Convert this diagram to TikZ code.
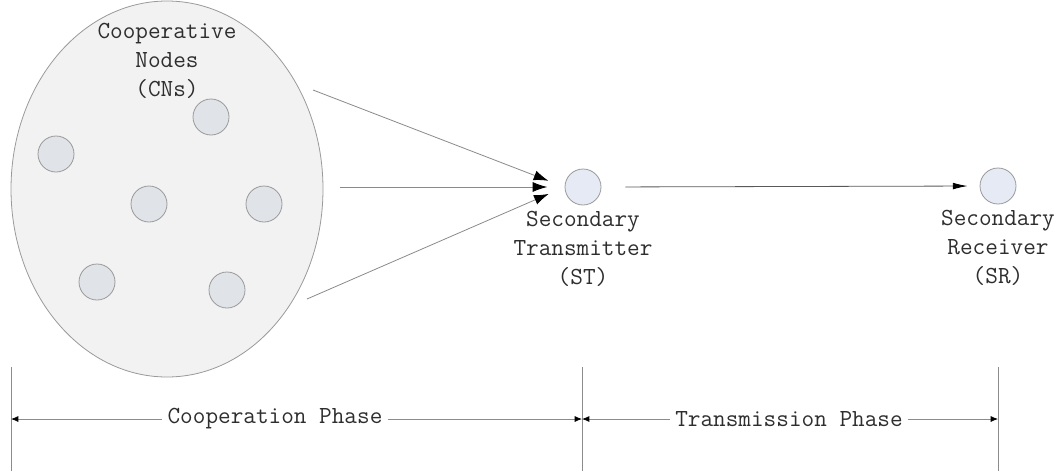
\documentclass[tikz,border=0pt]{standalone}
\usetikzlibrary{arrows.meta,shapes.geometric}
\definecolor{cloudfill}{HTML}{F2F2F2}
\definecolor{cloudline}{HTML}{9A9A9A}
\definecolor{cnfill}{HTML}{E0E3E8}
\definecolor{stfill}{HTML}{E5EAF4}
\definecolor{edgegray}{HTML}{8A8A8A}
\definecolor{txt}{HTML}{2E2E2E}
\begin{document}
\begin{tikzpicture}[x=0.75pt,y=-0.75pt,
  cloud/.style={ellipse, draw=cloudline, fill=cloudfill, line width=0.6pt, inner sep=0pt,
    minimum width=234pt, minimum height=282pt},
  cn/.style={circle, draw=cloudline, fill=cnfill, line width=0.6pt, inner sep=0pt, minimum size=27pt},
  tn/.style={circle, draw=cloudline, fill=stfill, line width=0.6pt, inner sep=0pt, minimum size=27pt},
  lbl/.style={font=\ttfamily\fontsize{18.4}{21.6}\selectfont, align=center, text=txt, inner sep=0pt},
  feed/.style={draw=edgegray, line width=0.6pt, -{Latex[length=11pt,width=7.5pt,color=black]}, shorten >=13pt},
  link/.style={draw=black!65, line width=0.6pt, -{Latex[length=11pt,width=5pt,color=black]}},
  dim/.style={draw=black!45, line width=0.6pt},
  dimarrow/.style={draw=black!45, line width=0.6pt,
    {Latex[length=5.5pt,width=4.5pt,color=black]}-{Latex[length=5.5pt,width=4.5pt,color=black]}},
  dimlbl/.style={font=\ttfamily\fontsize{18.4}{21.6}\selectfont, text=txt, fill=white, inner xsep=4pt, inner ysep=2pt}
]
\useasboundingbox (0,0) rectangle (1062,471);

% cloud of cooperative nodes
\node[cloud] (cloud) at (167,189) {};
\node[lbl] (cnlbl) at (167,61) {Cooperative\\Nodes\\(CNs)};
\node[cn] (c1) at (211,117) {};
\node[cn] (c2) at (56,154) {};
\node[cn] (c3) at (149,204) {};
\node[cn] (c4) at (264,204) {};
\node[cn] (c5) at (97,282) {};
\node[cn] (c6) at (227,290) {};

% ST and SR
\node[tn] (ST) at (583,187) {};
\node[lbl] (stlbl) at (583,249) {Secondary\\Transmitter\\(ST)};
\node[tn] (SR) at (998,186) {};
\node[lbl] (srlbl) at (998,248) {Secondary\\Receiver\\(SR)};

% cooperation arrows
\coordinate (s1) at (313,90);
\coordinate (s2) at (340,187);
\coordinate (s3) at (307,299);
\draw[feed] (s1) -- (ST.west);
\draw[feed] (s2) -- (ST.west);
\draw[feed] (s3) -- (ST.west);

% transmission arrow
\draw[link, shorten <=18pt, shorten >=9pt] (ST.east) -- (SR.west);

% phase dimension lines
\coordinate (v1t) at (11,367);  \coordinate (v1b) at (11,471);
\coordinate (v2t) at (582,367); \coordinate (v2b) at (582,471);
\coordinate (v3t) at (998,367); \coordinate (v3b) at (998,471);
\draw[dim] (v1t) -- (v1b);
\draw[dim] (v2t) -- (v2b);
\draw[dim] (v3t) -- (v3b);
\coordinate (h1) at (11,419);
\coordinate (h2) at (582,419);
\coordinate (h3) at (998,419);
\draw[dimarrow] (h1) -- (h2);
\draw[dimarrow] (h2) -- (h3);
\node[dimlbl] (coop) at (275,419) {Cooperation Phase};
\node[dimlbl] (trans) at (789,419) {Transmission Phase};
\end{tikzpicture}
\end{document}
